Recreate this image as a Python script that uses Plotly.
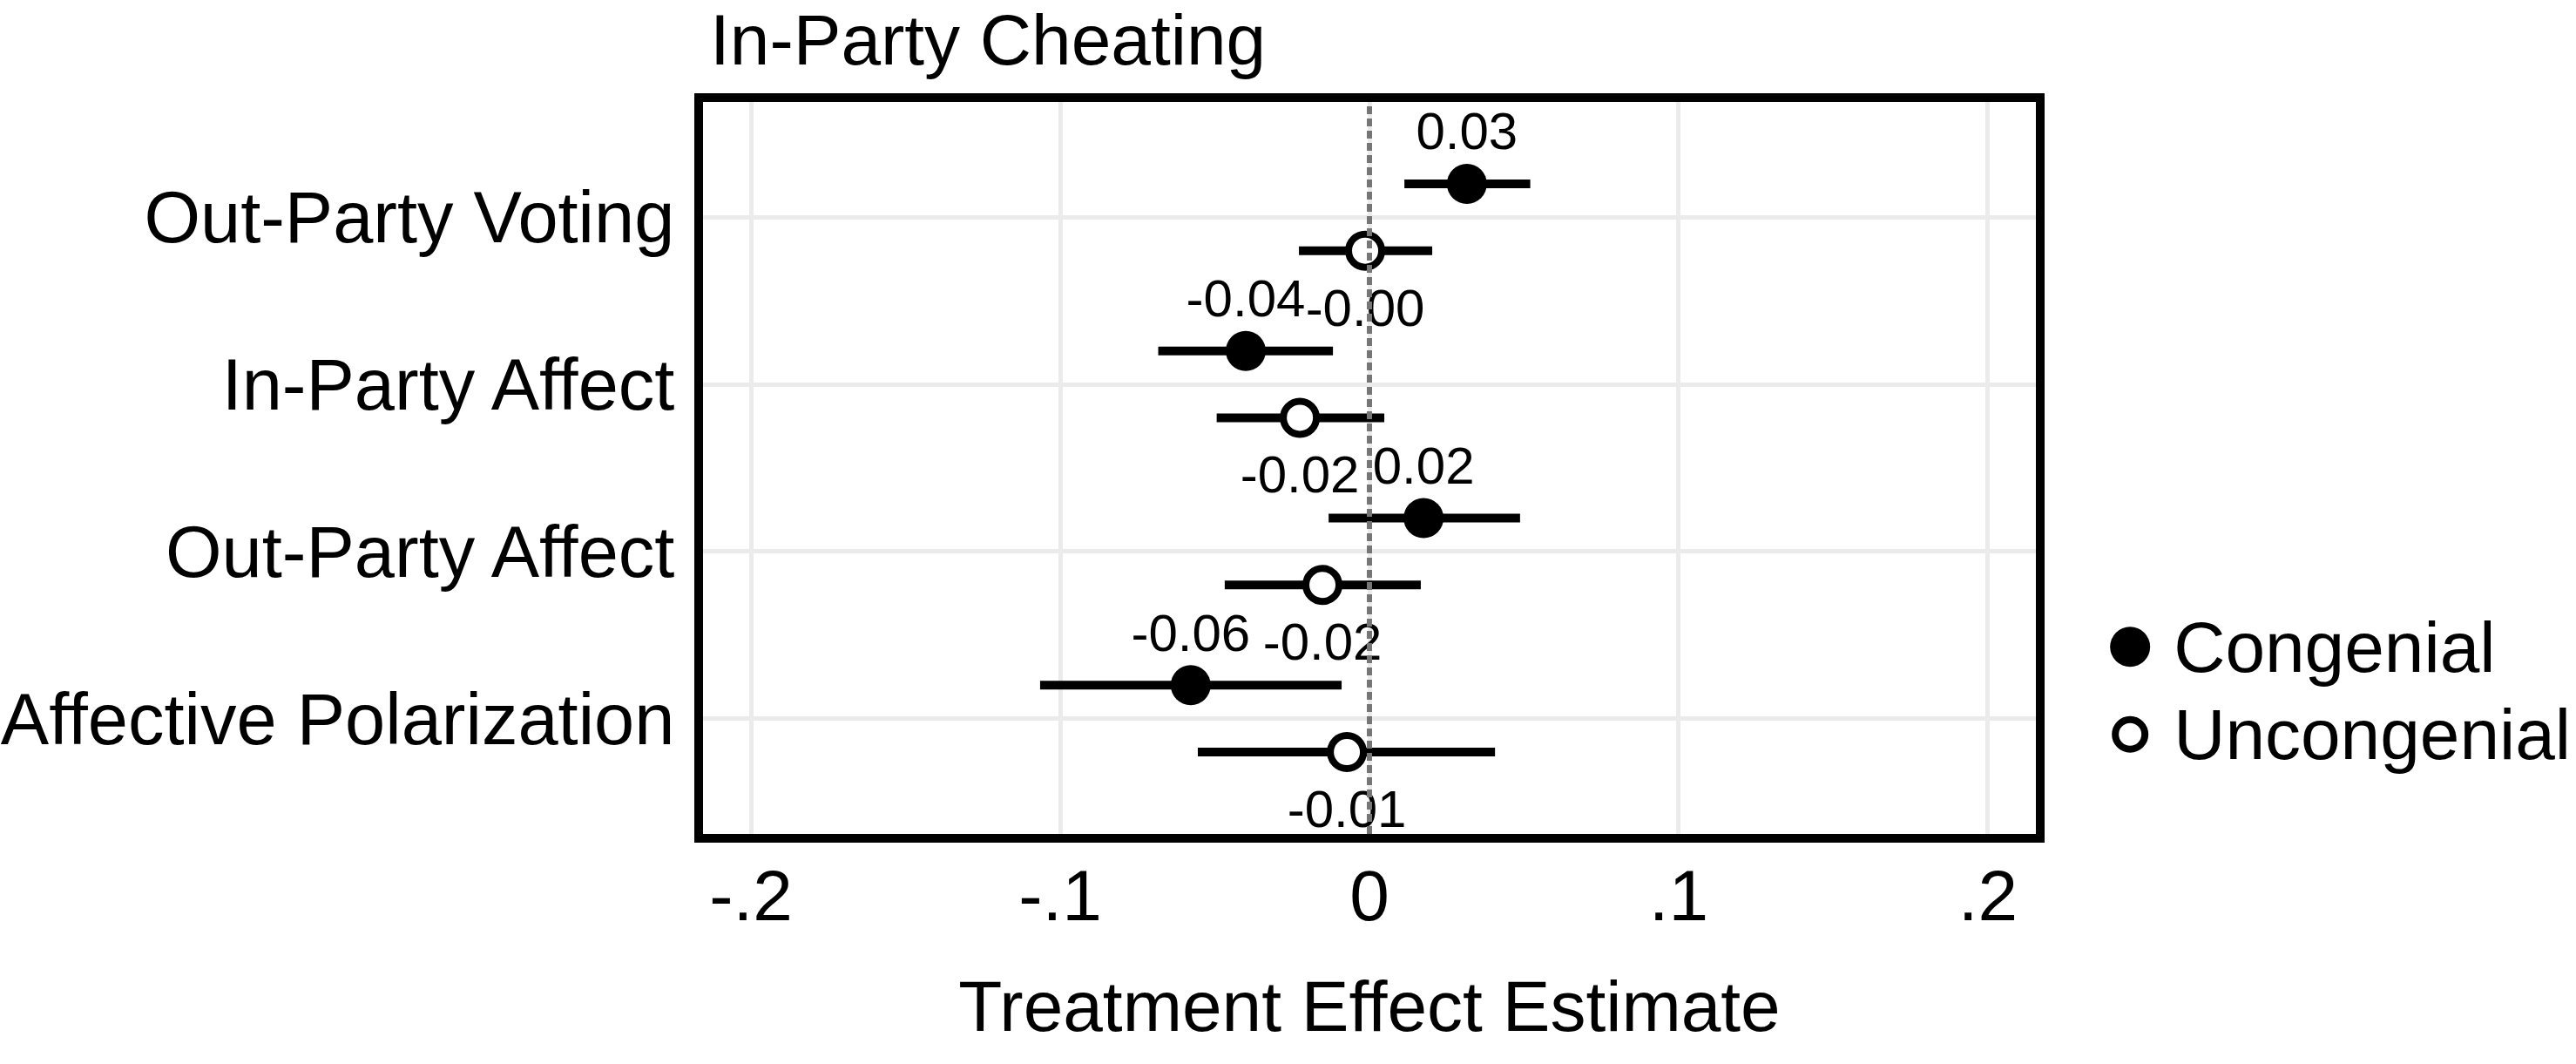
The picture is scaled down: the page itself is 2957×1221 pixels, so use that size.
import plotly.graph_objects as go

W, H = 2957, 1221
FONT = "Liberation Sans, Arial, Helvetica, sans-serif"

# outcomes, top to bottom
outcomes = ["Out-Party Voting", "In-Party Affect", "Out-Party Affect", "Affective Polarization"]

# congenial estimates and 95% CIs
cong_est = [0.0315, -0.0400, 0.0175, -0.0578]
cong_lo = [0.0113, -0.0683, -0.0132, -0.1065]
cong_hi = [0.0520, -0.0118, 0.0487, -0.0090]

# uncongenial estimates and 95% CIs
uncong_est = [-0.0014, -0.0225, -0.0152, -0.0073]
uncong_lo = [-0.0228, -0.0494, -0.0468, -0.0555]
uncong_hi = [0.0203, 0.0048, 0.0166, 0.0406]

x_ticks = [-0.2, -0.1, 0, 0.1, 0.2]
x_ticktext = ["-.2", "-.1", "0", ".1", ".2"]

legend_names = ["Congenial", "Uncongenial"]

pos = list(range(len(outcomes)))
dodge = 0.2
y_cong = [p - dodge for p in pos]
y_uncong = [p + dodge for p in pos]


def px_x(p):
    return p / W


def px_y(p):
    return 1 - p / H


fig = go.Figure()

# congenial: filled dots
fig.add_trace(go.Scatter(
    x=cong_est, y=y_cong, mode="markers",
    marker=dict(symbol="circle", size=46, color="black", line=dict(width=0)),
    error_x=dict(type="data", symmetric=False,
                 array=[h - e for h, e in zip(cong_hi, cong_est)],
                 arrayminus=[e - l for e, l in zip(cong_est, cong_lo)],
                 color="black", thickness=10, width=0),
    showlegend=False,
))
# uncongenial: hollow dots
fig.add_trace(go.Scatter(
    x=uncong_est, y=y_uncong, mode="markers",
    marker=dict(symbol="circle", size=38, color="white", line=dict(width=8, color="black")),
    error_x=dict(type="data", symmetric=False,
                 array=[h - e for h, e in zip(uncong_hi, uncong_est)],
                 arrayminus=[e - l for e, l in zip(uncong_est, uncong_lo)],
                 color="black", thickness=10, width=0),
    showlegend=False,
))

# value labels
fig.add_trace(go.Scatter(
    x=cong_est, y=[y - 0.285 for y in y_cong], mode="text",
    text=[f"{v:.2f}" for v in cong_est], textposition="middle center",
    textfont=dict(family=FONT, size=60, color="black"), showlegend=False,
))
fig.add_trace(go.Scatter(
    x=uncong_est, y=[y + 0.37 for y in y_uncong], mode="text",
    text=[f"{v:.2f}" for v in uncong_est], textposition="middle center",
    textfont=dict(family=FONT, size=60, color="black"), showlegend=False,
))

# legend drawn on its own small axes so the markers keep full size
fig.add_trace(go.Scatter(
    x=[0], y=[0], mode="markers",
    marker=dict(symbol="circle", size=46, color="black", line=dict(width=0)),
    xaxis="x2", yaxis="y2", showlegend=False,
))
fig.add_trace(go.Scatter(
    x=[0], y=[1], mode="markers",
    marker=dict(symbol="circle", size=34, color="white", line=dict(width=8, color="black")),
    xaxis="x2", yaxis="y2", showlegend=False,
))
fig.add_trace(go.Scatter(
    x=[1, 1], y=[0.08, 1.08], mode="text", text=legend_names, textposition="middle right",
    textfont=dict(family=FONT, size=82, color="black"),
    xaxis="x2", yaxis="y2", showlegend=False,
))

fig.add_vline(x=0, line=dict(color="#767676", width=6, dash="9px,5px"), layer="above")

fig.update_layout(
    width=W, height=H,
    margin=dict(l=0, r=0, t=0, b=0),
    paper_bgcolor="white", plot_bgcolor="white",
    font=dict(family=FONT, size=82, color="black"),
    xaxis=dict(
        domain=[px_x(807), px_x(2337)], range=[-0.2155, 0.2155],
        tickvals=x_ticks, ticktext=x_ticktext, ticks="", ticklabelstandoff=-9,
        showgrid=True, gridcolor="#ebebeb", gridwidth=5, zeroline=False,
        showline=True, linecolor="black", linewidth=10, mirror=True,
        tickfont=dict(size=82), automargin=False,
        title=dict(text="Treatment Effect Estimate", font=dict(size=82), standoff=57),
    ),
    yaxis=dict(
        domain=[px_y(957), px_y(117)], range=[3.69, -0.69],
        tickvals=pos, ticktext=outcomes, ticks="", ticklabelstandoff=6,
        showgrid=True, gridcolor="#ebebeb", gridwidth=5, zeroline=False,
        showline=True, linecolor="black", linewidth=10, mirror=True,
        tickfont=dict(size=83), automargin=False,
    ),
    xaxis2=dict(domain=[0.81, 1.0], range=[-1, 10.236], visible=False, anchor="y2"),
    yaxis2=dict(domain=[px_y(893), px_y(692)], range=[1.5, -0.5], visible=False, anchor="x2"),
    annotations=[dict(
        text="In-Party Cheating", xref="paper", yref="paper",
        x=px_x(813), y=px_y(46), xanchor="left", yanchor="middle",
        showarrow=False, font=dict(size=82),
    )],
)

fig.write_html(
    "out.html",
    config={"displayModeBar": False},
    post_script="document.body.style.margin='0';document.body.style.overflow='hidden';",
)
